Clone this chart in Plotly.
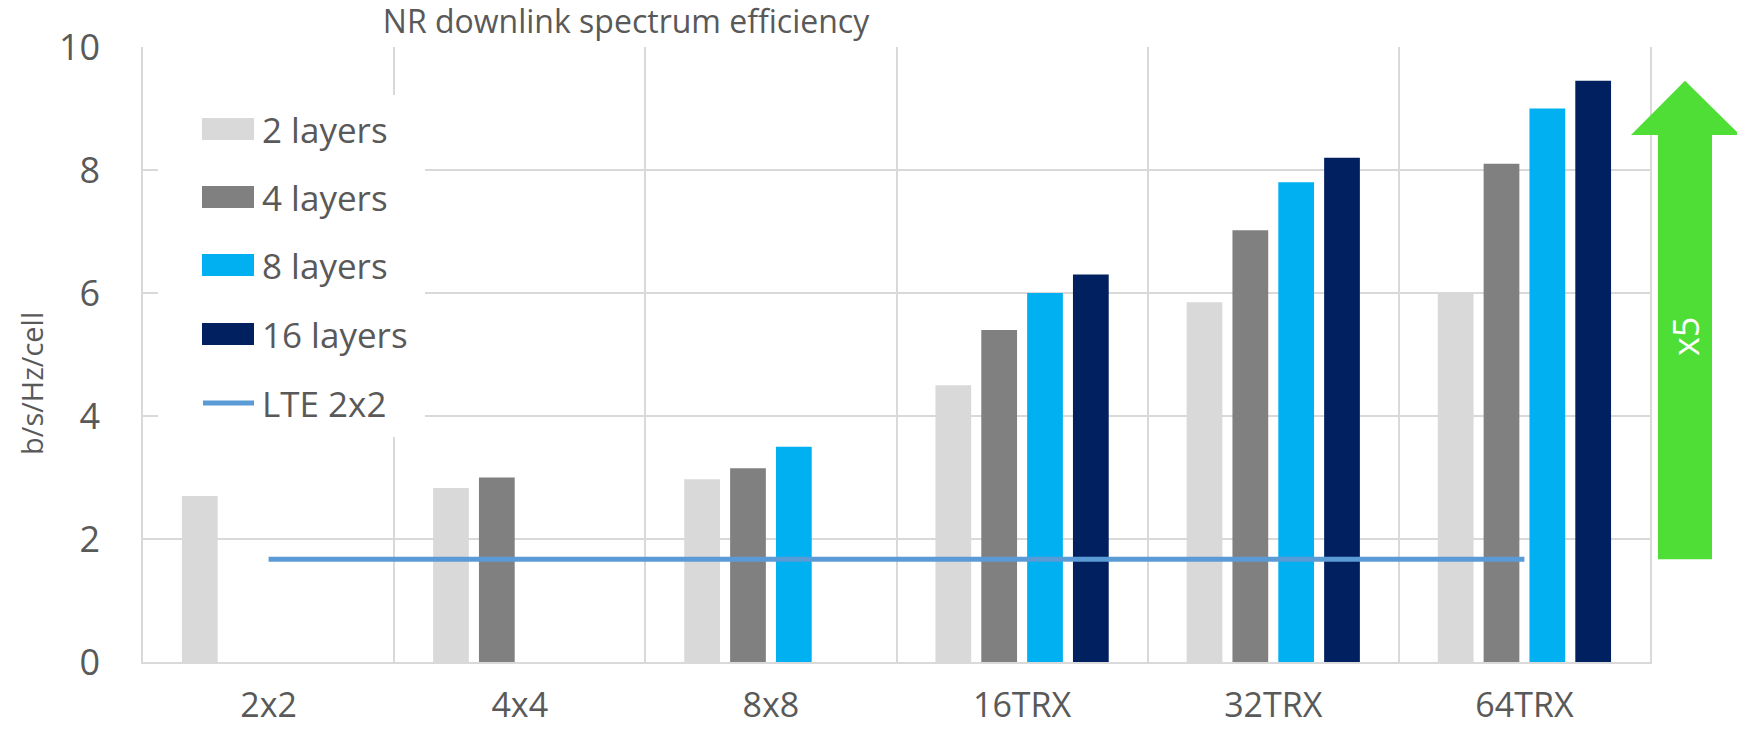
import plotly.graph_objects as go

# ---- data -------------------------------------------------------------
categories = ["2x2", "4x4", "8x8", "16TRX", "32TRX", "64TRX"]
layers_2 = [2.70, 2.83, 2.97, 4.50, 5.85, 6.00]
layers_4 = [None, 3.00, 3.15, 5.40, 7.02, 8.10]
layers_8 = [None, None, 3.50, 6.00, 7.80, 9.00]
layers_16 = [None, None, None, 6.30, 8.20, 9.45]
lte_2x2 = [1.67, 1.67, 1.67, 1.67, 1.67, 1.67]
y_ticks = [0, 2, 4, 6, 8, 10]
gain_label = "x5"

series = [
    ("2 layers", layers_2, "#D9D9D9"),
    ("4 layers", layers_4, "#808080"),
    ("8 layers", layers_8, "#00B0F0"),
    ("16 layers", layers_16, "#002060"),
]
LINE_NAME = "LTE 2x2"
LINE_COLOR = "#5B9BD5"
ARROW_COLOR = "#4EDE35"
TEXT_COLOR = "#595959"
GRID_COLOR = "#D9D9D9"
FONT = "Open Sans"

# ---- page geometry (pixels) -------------------------------------------
W, H = 1737, 729
L, R, T, B = 143, 87, 47, 67
PW, PH = W - L - R, H - T - B


def px_x(p):
    return (p - L) / PW


def px_y(p):
    return (H - B - p) / PH


fig = go.Figure()

for name, vals, color in series:
    fig.add_trace(go.Bar(
        x=categories, y=vals, name=name,
        marker=dict(color=color, line=dict(width=0)),
        showlegend=False,
    ))

fig.add_trace(go.Scatter(
    x=categories, y=lte_2x2, name=LINE_NAME, mode="lines",
    line=dict(color=LINE_COLOR, width=5),
    showlegend=False,
))

shapes = []
annotations = []

# legend panel (white box hiding the grid behind it)
shapes.append(dict(
    type="rect", xref="paper", yref="paper", layer="above",
    x0=px_x(158), x1=px_x(425), y0=px_y(437), y1=px_y(95),
    fillcolor="white", line=dict(width=0),
))
row_y = [129, 197, 265, 334, 403]
for (name, _, color), ry in zip(series, row_y):
    shapes.append(dict(
        type="rect", xref="paper", yref="paper", layer="above",
        x0=px_x(202), x1=px_x(254), y0=px_y(ry + 11), y1=px_y(ry - 11),
        fillcolor=color, line=dict(width=0),
    ))
    annotations.append(dict(
        text=name, xref="paper", yref="paper", x=px_x(260), y=px_y(ry),
        xanchor="left", yanchor="middle", showarrow=False,
        font=dict(family=FONT, size=35, color=TEXT_COLOR),
    ))
shapes.append(dict(
    type="line", xref="paper", yref="paper", layer="above",
    x0=px_x(203), x1=px_x(254), y0=px_y(row_y[4]), y1=px_y(row_y[4]),
    line=dict(color=LINE_COLOR, width=5),
))
annotations.append(dict(
    text=LINE_NAME, xref="paper", yref="paper", x=px_x(260), y=px_y(row_y[4]),
    xanchor="left", yanchor="middle", showarrow=False,
    font=dict(family=FONT, size=35, color=TEXT_COLOR),
))

# growth arrow from the LTE baseline up to the best NR value
y_base = lte_2x2[-1]
y_tip = max(v for v in layers_16 if v is not None)
y_head = y_tip - 0.88
xl, xr = px_x(1658), px_x(1712)
hl, hr = px_x(1631), px_x(1740)
xt = px_x(1685)
path = (f"M {xl},{y_base} L {xl},{y_head} L {hl},{y_head} L {xt},{y_tip} "
        f"L {hr},{y_head} L {xr},{y_head} L {xr},{y_base} Z")
shapes.append(dict(
    type="path", path=path, xref="paper", yref="y", layer="above",
    fillcolor=ARROW_COLOR, line=dict(width=0),
))
annotations.append(dict(
    text=gain_label, xref="paper", yref="paper", x=xt, y=px_y(337),
    textangle=-90, showarrow=False, xanchor="center", yanchor="middle",
    font=dict(family=FONT, size=36, color="white"),
))

# vertical axis title
annotations.append(dict(
    text="b/s/Hz/cell", xref="paper", yref="paper", x=px_x(31), y=px_y(384),
    textangle=-90, showarrow=False, xanchor="center", yanchor="middle",
    font=dict(family=FONT, size=29, color=TEXT_COLOR),
))

fig.update_layout(
    width=W, height=H,
    margin=dict(l=L, r=R, t=T, b=B, pad=0, autoexpand=False),
    paper_bgcolor="white", plot_bgcolor="white",
    barmode="group", bargap=0.27, bargroupgap=0.22,
    title=dict(
        text="NR downlink spectrum efficiency",
        x=626 / W, xref="container", xanchor="center",
        y=1 - 22 / H, yref="container", yanchor="middle",
        font=dict(family=FONT, size=32, color=TEXT_COLOR),
        automargin=False,
    ),
    font=dict(family=FONT, color=TEXT_COLOR),
    shapes=shapes, annotations=annotations,
    showlegend=False,
)
fig.update_xaxes(
    type="category", tickson="boundaries", showgrid=True,
    gridcolor=GRID_COLOR, gridwidth=1.5, automargin=False,
    showline=True, linecolor=GRID_COLOR, linewidth=2,
    ticks="", ticklabelstandoff=12,
    tickfont=dict(family=FONT, size=34, color=TEXT_COLOR),
)
fig.update_yaxes(
    range=[0, 10], tickvals=y_ticks, showgrid=True, automargin=False,
    gridcolor=GRID_COLOR, gridwidth=1.5, zeroline=False,
    showline=True, mirror=True, linecolor=GRID_COLOR, linewidth=1.5,
    ticks="", ticklabelstandoff=34,
    tickfont=dict(family=FONT, size=36, color=TEXT_COLOR),
)

fig.write_html("out.html")
